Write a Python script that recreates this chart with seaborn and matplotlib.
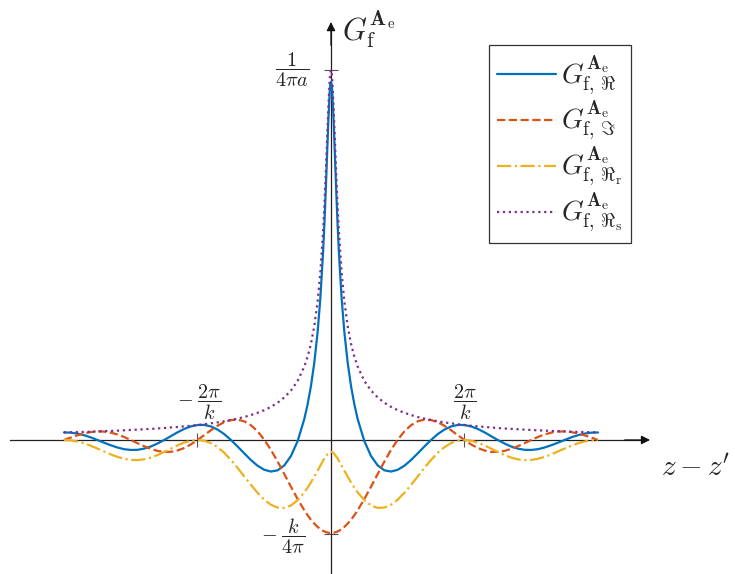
import pandas as pd
import matplotlib
matplotlib.use("Agg")
import matplotlib.pyplot as plt
import seaborn as sns

# position along the wire, in units of 2*pi/k (ticks at -1 and 1)
u = [-2.0, -1.95, -1.9, -1.85, -1.8, -1.75, -1.7, -1.65, -1.6, -1.55, -1.5, -1.45,
     -1.4, -1.35, -1.3, -1.25, -1.2, -1.15, -1.1, -1.05, -1.0, -0.95, -0.9, -0.85,
     -0.8, -0.75, -0.7, -0.65, -0.6, -0.55, -0.5, -0.45, -0.4, -0.35, -0.3, -0.25,
     -0.2, -0.175, -0.15, -0.125, -0.1, -0.08, -0.06, -0.05, -0.04, -0.03, -0.02,
     -0.01, -0.005, 0.0, 0.005, 0.01, 0.02, 0.03, 0.04, 0.05, 0.06, 0.08, 0.1,
     0.125, 0.15, 0.175, 0.2, 0.25, 0.3, 0.35, 0.4, 0.45, 0.5, 0.55, 0.6, 0.65,
     0.7, 0.75, 0.8, 0.85, 0.9, 0.95, 1.0, 1.05, 1.1, 1.15, 1.2, 1.25, 1.3, 1.35,
     1.4, 1.45, 1.5, 1.55, 1.6, 1.65, 1.7, 1.75, 1.8, 1.85, 1.9, 1.95, 2.0]

# values in units of k/(4*pi)
g_re = [0.080, 0.078, 0.068, 0.051, 0.028, 0.000, -0.029, -0.056, -0.080, -0.098, -0.106, -0.105,
        -0.092, -0.070, -0.038, -0.001, 0.040, 0.081, 0.117, 0.144, 0.159, 0.160, 0.144, 0.111,
        0.063, 0.001, -0.069, -0.142, -0.213, -0.274, -0.317, -0.336, -0.323, -0.271, -0.171, -0.013,
        0.222, 0.379, 0.574, 0.822, 1.150, 1.502, 1.977, 2.276, 2.622, 3.005, 3.388,
        3.692, 3.781, 3.811, 3.781, 3.692, 3.388, 3.005, 2.622, 2.276, 1.977, 1.502, 1.150,
        0.822, 0.574, 0.379, 0.222, -0.013, -0.171, -0.271, -0.323, -0.336, -0.317, -0.274, -0.213, -0.142,
        -0.069, 0.001, 0.063, 0.111, 0.144, 0.160, 0.159, 0.144, 0.117, 0.081, 0.040, -0.001, -0.038, -0.070,
        -0.092, -0.105, -0.106, -0.098, -0.080, -0.056, -0.029, 0.000, 0.028, 0.051, 0.068, 0.078, 0.080]

g_im = [0.000, 0.025, 0.049, 0.069, 0.084, 0.091, 0.089, 0.078, 0.059, 0.032, 0.000, -0.034,
        -0.066, -0.095, -0.116, -0.127, -0.126, -0.112, -0.086, -0.048, -0.001, 0.051, 0.103, 0.151,
        0.189, 0.212, 0.216, 0.199, 0.157, 0.092, 0.003, -0.105, -0.229, -0.362, -0.497, -0.628,
        -0.748, -0.801, -0.849, -0.890, -0.925, -0.948, -0.966, -0.973, -0.979, -0.983, -0.987,
        -0.989, -0.989, -0.989, -0.989, -0.989, -0.987, -0.983, -0.979, -0.973, -0.966, -0.948, -0.925,
        -0.890, -0.849, -0.801, -0.748, -0.628, -0.497, -0.362, -0.229, -0.105, 0.003, 0.092, 0.157, 0.199,
        0.216, 0.212, 0.189, 0.151, 0.103, 0.051, -0.001, -0.048, -0.086, -0.112, -0.126, -0.127, -0.116, -0.095,
        -0.066, -0.034, 0.000, 0.032, 0.059, 0.078, 0.089, 0.091, 0.084, 0.069, 0.049, 0.025, 0.000]

g_re_r = [0.000, -0.004, -0.016, -0.035, -0.061, -0.091, -0.122, -0.153, -0.180, -0.200, -0.212, -0.214,
          -0.206, -0.188, -0.161, -0.128, -0.092, -0.058, -0.028, -0.008, 0.000, -0.008, -0.033, -0.076,
          -0.136, -0.211, -0.296, -0.387, -0.477, -0.562, -0.635, -0.689, -0.719, -0.723, -0.697, -0.641,
          -0.558, -0.507, -0.451, -0.390, -0.326, -0.274, -0.223, -0.199, -0.177, -0.157, -0.141,
          -0.130, -0.127, -0.126, -0.127, -0.130, -0.141, -0.157, -0.177, -0.199, -0.223, -0.274, -0.326,
          -0.390, -0.451, -0.507, -0.558, -0.641, -0.697, -0.723, -0.719, -0.689, -0.635, -0.562, -0.477, -0.387,
          -0.296, -0.211, -0.136, -0.076, -0.033, -0.008, 0.000, -0.008, -0.028, -0.058, -0.092, -0.128, -0.161, -0.188,
          -0.206, -0.214, -0.212, -0.200, -0.180, -0.153, -0.122, -0.091, -0.061, -0.035, -0.016, -0.004, 0.000]

g_re_s = [0.080, 0.082, 0.084, 0.086, 0.088, 0.091, 0.094, 0.096, 0.099, 0.103, 0.106, 0.110,
          0.114, 0.118, 0.122, 0.127, 0.133, 0.138, 0.145, 0.151, 0.159, 0.167, 0.177, 0.187,
          0.199, 0.212, 0.227, 0.244, 0.265, 0.289, 0.317, 0.352, 0.396, 0.452, 0.526, 0.628,
          0.780, 0.886, 1.024, 1.212, 1.476, 1.776, 2.200, 2.475, 2.799, 3.162, 3.529,
          3.822, 3.908, 3.937, 3.908, 3.822, 3.529, 3.162, 2.799, 2.475, 2.200, 1.776, 1.476,
          1.212, 1.024, 0.886, 0.780, 0.628, 0.526, 0.452, 0.396, 0.352, 0.317, 0.289, 0.265, 0.244,
          0.227, 0.212, 0.199, 0.187, 0.177, 0.167, 0.159, 0.151, 0.145, 0.138, 0.133, 0.127, 0.122, 0.118,
          0.114, 0.110, 0.106, 0.103, 0.099, 0.096, 0.094, 0.091, 0.088, 0.086, 0.084, 0.082, 0.080]

x_tick_vals = [-1.0, 1.0]
x_tick_labels = [r"$-\;\dfrac{2\pi}{k}$", r"$\dfrac{2\pi}{k}$"]
y_tick_vals = [3.937, -1.0]
y_tick_labels = [r"$\dfrac{1}{4\pi a}$", r"$-\;\dfrac{k}{4\pi}$"]

sym = r"G^{\mathbf{A}_{\mathrm{e}}}"
series = [
    (g_re, rf"${sym}_{{\mathrm{{f}},\,\Re}}$", "#0072BD", "-"),
    (g_im, rf"${sym}_{{\mathrm{{f}},\,\Im}}$", "#D95319", "--"),
    (g_re_r, rf"${sym}_{{\mathrm{{f}},\,\Re_{{\mathrm{{r}}}}}}$", "#EDB120", "-."),
    (g_re_s, rf"${sym}_{{\mathrm{{f}},\,\Re_{{\mathrm{{s}}}}}}$", "#7E2F8E", ":"),
]

sns.set_style("white")
plt.rcParams["mathtext.fontset"] = "cm"
plt.rcParams["font.family"] = ["DejaVu Serif"]

fig = plt.figure(figsize=(7.35, 5.74), dpi=100)
ax = fig.add_axes([0, 0, 1, 1])

for vals, label, color, ls in series:
    df = pd.DataFrame({"u": u, "g": vals})
    sns.lineplot(data=df, x="u", y="g", ax=ax, color=color, linestyle=ls,
                 linewidth=1.6, label=label, sort=False)

ax.set_xlim(-2.479, 3.026)
ax.set_ylim(-1.426, 4.681)
ax.set_xlabel("")
ax.set_ylabel("")

# axes through the origin
for side in ["top", "right"]:
    ax.spines[side].set_visible(False)
ax.spines["left"].set_position(("data", 0))
ax.spines["bottom"].set_position(("data", 0))
ax.spines["left"].set_bounds(-1.426, 4.40)
ax.spines["bottom"].set_bounds(-2.404, 2.33)
for side in ["left", "bottom"]:
    ax.spines[side].set_color("#222222")
    ax.spines[side].set_linewidth(0.9)
    ax.spines[side].set_zorder(1)
ax.annotate("", xy=(2.39, 0), xytext=(2.2, 0),
            arrowprops=dict(arrowstyle="-|>", color="#111111", lw=0.9,
                            mutation_scale=13, shrinkA=0, shrinkB=0))
ax.annotate("", xy=(0, 4.447), xytext=(0, 4.2),
            arrowprops=dict(arrowstyle="-|>", color="#111111", lw=0.9,
                            mutation_scale=13, shrinkA=0, shrinkB=0))

ax.set_xticks(x_tick_vals)
ax.set_yticks(y_tick_vals)
ax.set_xticklabels([])
ax.set_yticklabels([])
ax.tick_params(axis="both", direction="inout", length=10, width=0.8,
               color="#555555", left=True, bottom=True)

ax.text(-0.99, 0.40, x_tick_labels[0], ha="center", va="center", fontsize=14.5)
ax.text(1.0, 0.40, x_tick_labels[1], ha="center", va="center", fontsize=14.5)
ax.text(-0.292, 3.937, y_tick_labels[0], ha="center", va="center", fontsize=14.5)
ax.text(-0.36, -1.03, y_tick_labels[1], ha="center", va="center", fontsize=14.5)

ax.text(0.085, 4.36, r"$G_{\mathrm{f}}^{\mathbf{A}_{\mathrm{e}}}$", ha="left",
        va="center", fontsize=22)
ax.text(2.47, -0.30, r"$z - z'$", ha="left", va="center", fontsize=21)

leg = ax.legend(loc="upper right", bbox_to_anchor=(631 / 735, 1 - 45 / 574),
                bbox_transform=fig.transFigure, borderaxespad=0, fontsize=20,
                frameon=True, fancybox=False, handlelength=2.1, labelspacing=0.1,
                handletextpad=0.2, borderpad=0.3)
leg.get_frame().set_edgecolor("black")
leg.get_frame().set_linewidth(0.9)

fig.savefig("out.png", dpi=100)
